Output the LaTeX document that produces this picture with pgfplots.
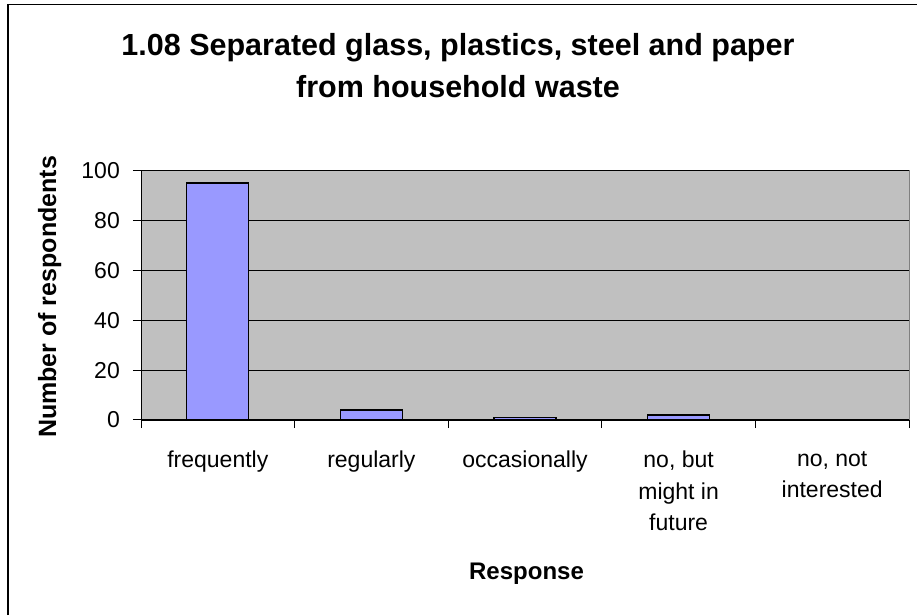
\documentclass[border=0pt]{standalone}
\usepackage{fontspec}
\setmainfont{Liberation Sans}
\usepackage{pgfplots}
\pgfplotsset{compat=1.18}

\definecolor{plotgray}{RGB}{192,192,192}
\definecolor{barblue}{RGB}{153,153,255}

\begin{document}
\begin{tikzpicture}[x=1pt,y=1pt]
\useasboundingbox (0,0) rectangle (917,615);
% chart frame (only left and top edges are visible)
\draw[line width=1.5pt] (8,0) -- (8,610.5) -- (917,610.5);

\begin{axis}[
    at={(141pt,195pt)}, anchor=south west,
    scale only axis, width=768pt, height=249.5pt,
    ybar, bar width=62pt,
    xmin=-0.5, xmax=4.5, ymin=0, ymax=100,
    axis x line*=bottom, axis y line*=left,
    axis line style={black, line width=1pt},
    axis background/.style={fill=plotgray, draw=gray, line width=1pt},
    ytick={0,20,40,60,80,100},
    xtick={0,1,2,3,4},
    xticklabels={frequently, regularly, occasionally, {no, but\\might in\\future}, {no, not\\interested}},
    minor xtick={-0.5,0.5,1.5,2.5,3.5,4.5},
    tick align=outside, major tick length=8pt, minor tick length=8pt,
    major x tick style={draw=none},
    tick style={black, line width=1pt},
    ymajorgrids, grid style={black, line width=0.8pt},
    /pgf/number format/assume math mode=true,
    yticklabel style={font=\fontsize{23}{28}\selectfont, inner sep=0pt, xshift=-13pt},
    xticklabel style={font=\fontsize{23}{31.5}\selectfont, align=center, anchor=north, inner sep=0pt, yshift=-23pt},
]
\addplot[fill=barblue, draw=black, line width=1.2pt] coordinates {(0,95) (1,4) (2,1) (3,2) (4,0)};
\end{axis}

\node[anchor=base, font=\fontsize{30.5}{36}\selectfont\bfseries] at (458,559) {1.08 Separated glass, plastics, steel and paper};
\node[anchor=base, font=\fontsize{30.5}{36}\selectfont\bfseries] at (458,517.5) {from household waste};
\node[anchor=base, rotate=90, font=\fontsize{25}{30}\selectfont\bfseries] at (56,318) {Number of respondents};
\node[anchor=base, font=\fontsize{24}{28}\selectfont\bfseries] at (526.5,35) {Response};
\end{tikzpicture}
\end{document}
